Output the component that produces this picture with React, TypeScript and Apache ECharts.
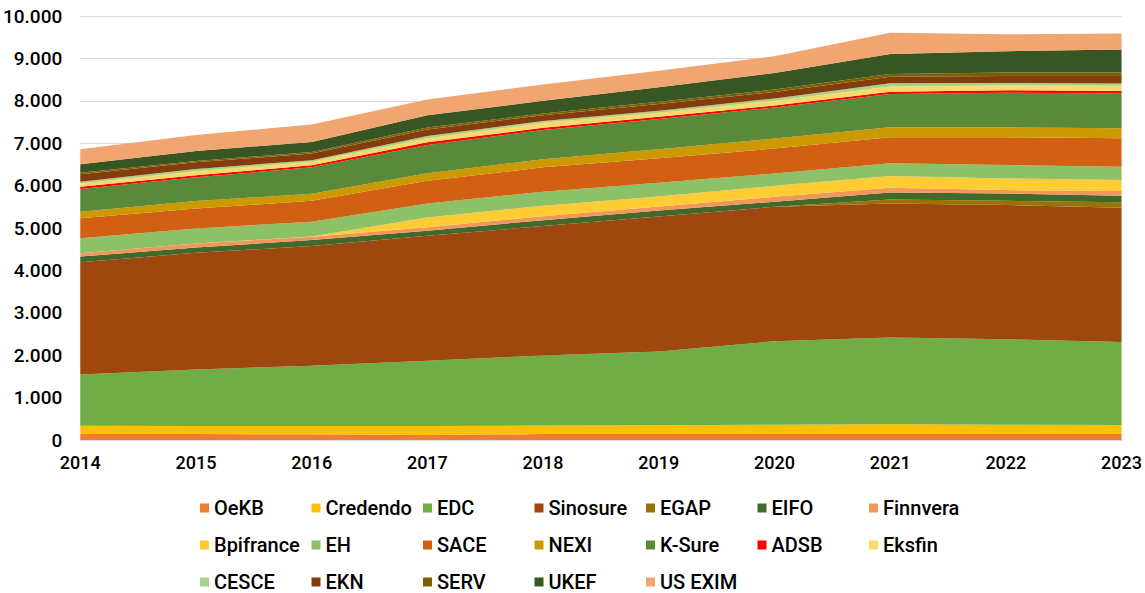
import React, { useEffect, useRef } from "react";
import * as echarts from "echarts";

const years = ["2014", "2015", "2016", "2017", "2018", "2019", "2020", "2021", "2022", "2023"];

const OeKB = [140, 140, 135, 115, 140, 140, 140, 140, 140, 140];
const Credendo = [195, 190, 195, 215, 200, 205, 220, 230, 220, 215];
const EDC = [1210, 1335, 1420, 1540, 1655, 1740, 1970, 2050, 2015, 1955];
const Sinosure = [2650, 2750, 2825, 2945, 3050, 3185, 3170, 3160, 3165, 3170];
const EGAP = [0, 0, 0, 0, 0, 0, 0, 95, 100, 125];
const EIFO = [130, 125, 140, 120, 140, 140, 120, 165, 175, 155];
const Finnvera = [80, 95, 80, 80, 95, 95, 115, 110, 80, 110];
const Bpifrance = [0, 0, 5, 235, 245, 235, 260, 275, 275, 260];
const EH = [355, 355, 350, 330, 330, 330, 290, 300, 315, 315];
const SACE = [470, 470, 490, 535, 575, 575, 590, 615, 655, 670];
const NEXI = [155, 175, 165, 175, 190, 210, 235, 235, 235, 235];
const KSure = [535, 560, 625, 670, 690, 715, 730, 785, 815, 825];
const ADSB = [50, 50, 50, 60, 55, 55, 50, 55, 60, 55];
const Eksfin = [80, 95, 80, 95, 115, 95, 110, 120, 110, 125];
const CESCE = [40, 50, 40, 55, 45, 45, 55, 80, 60, 55];
const EKN = [180, 160, 155, 155, 135, 160, 155, 155, 165, 175];
const SERV = [35, 30, 40, 45, 40, 55, 55, 65, 80, 85];
const UKEF = [200, 235, 235, 290, 300, 340, 390, 470, 505, 540];
const USEXIM = [355, 380, 410, 370, 385, 390, 395, 500, 400, 375];

const seriesNames = [
  "OeKB", "Credendo", "EDC", "Sinosure", "EGAP", "EIFO", "Finnvera", "Bpifrance", "EH",
  "SACE", "NEXI", "K-Sure", "ADSB", "Eksfin", "CESCE", "EKN", "SERV", "UKEF", "US EXIM",
];
const seriesData = [
  OeKB, Credendo, EDC, Sinosure, EGAP, EIFO, Finnvera, Bpifrance, EH,
  SACE, NEXI, KSure, ADSB, Eksfin, CESCE, EKN, SERV, UKEF, USEXIM,
];
const seriesColors = [
  "#ED7D31", "#FFC000", "#70AD47", "#9E480E", "#997300", "#43682B", "#F1975A", "#FFCD33", "#8CC168",
  "#D26012", "#CC9A00", "#5A8A39", "#FF0000", "#FFD966", "#A9D18E", "#843C0C", "#7F6000", "#375623", "#F1A570",
];

const legendColumns = [
  ["OeKB", "Bpifrance", "CESCE"],
  ["Credendo", "EH", "EKN"],
  ["EDC", "SACE", "SERV"],
  ["Sinosure", "NEXI", "UKEF"],
  ["EGAP", "K-Sure", "US EXIM"],
  ["EIFO", "ADSB"],
  ["Finnvera", "Eksfin"],
];

const FONT = "Roboto, 'DejaVu Sans', sans-serif";

export default function App() {
  const ref = useRef<HTMLDivElement>(null);
  useEffect(() => {
    if (!ref.current) return;
    const chart = echarts.init(ref.current, null, { renderer: "svg" });
    chart.setOption({
      animation: false,
      backgroundColor: "#ffffff",
      grid: { left: 80, right: 22, top: 16, bottom: 153, containLabel: false },
      legend: legendColumns.map((col, i) => ({
        data: col,
        orient: "vertical",
        left: 200 + i * 111.5,
        top: 498,
        itemWidth: 9,
        itemHeight: 9,
        itemGap: 17,
        icon: "rect",
        selectedMode: false,
        padding: 0,
        textStyle: { fontSize: 20, fontWeight: 500, fontFamily: FONT, color: "#000" },
      })),
      xAxis: {
        type: "category",
        data: years,
        boundaryGap: false,
        axisLine: { lineStyle: { color: "#D9D9D9", width: 1 } },
        axisTick: { show: false },
        axisLabel: { fontSize: 18, fontWeight: 500, fontFamily: FONT, color: "#000", margin: 13 },
      },
      yAxis: {
        type: "value",
        min: 0,
        max: 10000,
        interval: 1000,
        axisLine: { show: false },
        axisTick: { show: false },
        splitLine: { lineStyle: { color: "#D9D9D9", width: 1 } },
        axisLabel: {
          fontSize: 19,
          fontWeight: 500,
          fontFamily: FONT,
          color: "#000",
          margin: 18,
          formatter: (v: number) => v.toLocaleString("de-DE"),
        },
      },
      series: seriesNames.map((name, i) => ({
        name,
        type: "line",
        stack: "total",
        data: seriesData[i],
        color: seriesColors[i],
        symbol: "none",
        lineStyle: { width: 0 },
        areaStyle: { color: seriesColors[i], opacity: 1 },
        emphasis: { disabled: true },
      })),
    });
    return () => chart.dispose();
  }, []);
  return (
    <div
      ref={ref}
      style={{ position: "fixed", left: 0, top: 0, width: 1145, height: 593 }}
    />
  );
}
